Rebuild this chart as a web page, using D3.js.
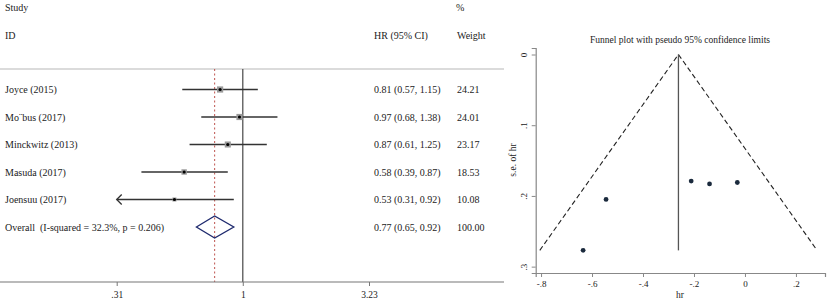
<!DOCTYPE html>
<html>
<head>
<meta charset="utf-8">
<script src="https://cdn.jsdelivr.net/npm/d3@7"></script>
<style>
  body { margin: 0; background: #fff; }
  svg text { font-family: "Liberation Serif", "DejaVu Serif", serif; fill: #222; white-space: pre; }
</style>
</head>
<body>
<svg id="chart" width="828" height="302"></svg>
<script>
// forest plot data
var studies = ["Joyce (2015)", "Mo\u00A8bus (2017)", "Minckwitz (2013)", "Masuda (2017)", "Joensuu (2017)"];
var hr = [0.81, 0.97, 0.87, 0.58, 0.53];
var ciLow = [0.57, 0.68, 0.61, 0.39, 0.31];
var ciHigh = [1.15, 1.38, 1.25, 0.87, 0.92];
var weights = [24.21, 24.01, 23.17, 18.53, 10.08];
var overall = {label: "Overall  (I-squared = 32.3%, p = 0.206)", hr: 0.77, lo: 0.65, hi: 0.92, weight: "100.00"};
var forestTicks = [0.31, 1, 3.23];
var forestTickLabels = [".31", "1", "3.23"];

// funnel plot data (log hr, s.e. of log hr)
var funnelLogHR = [-0.211, -0.030, -0.139, -0.545, -0.635];
var funnelSE = [0.179, 0.181, 0.183, 0.205, 0.277];
var pooledLogHR = -0.261;
var funnelLimitsX = [-0.805, 0.283];  // pseudo 95% limits at the largest s.e.
var funnelXTicks = [-0.8, -0.6, -0.4, -0.2, 0, 0.2];
var funnelYTicks = [0, 0.1, 0.2, 0.3];

var svg = d3.select("#chart");
svg.append("rect").attr("width", 828).attr("height", 302).attr("fill", "#fff");

// ---------- forest plot ----------
var x = d3.scaleLog().domain([0.31, 3.23]).range([116.7, 369]);
var rowY = d3.scalePoint().domain(d3.range(studies.length + 1)).range([89.5, 227]);
var boxSize = d3.scaleSqrt().domain([0, 25]).range([0, 6.3]);

var forest = svg.append("g");

// header text
forest.append("text").attr("x", 5).attr("y", 11).attr("font-size", 10).text("Study");
forest.append("text").attr("x", 5).attr("y", 38.5).attr("font-size", 10).text("ID");
forest.append("text").attr("x", 456).attr("y", 11).attr("font-size", 10).text("%");
forest.append("text").attr("x", 374).attr("y", 38.5).attr("font-size", 10).text("HR (95% CI)");
forest.append("text").attr("x", 457).attr("y", 38.5).attr("font-size", 10).text("Weight");

forest.append("line").attr("x1", 0).attr("x2", 504).attr("y1", 69).attr("y2", 69)
  .attr("stroke", "#cfcfcf").attr("stroke-width", 1.5);

// reference lines
forest.append("line").attr("x1", x(1)).attr("x2", x(1)).attr("y1", 69).attr("y2", 282)
  .attr("stroke", "#555").attr("stroke-width", 1.3);
forest.append("line").attr("x1", x(overall.hr)).attr("x2", x(overall.hr)).attr("y1", 69).attr("y2", 282)
  .attr("stroke", "#b5403a").attr("stroke-width", 0.9).attr("stroke-dasharray", "2,2.5");

// bottom axis
forest.append("line").attr("x1", 0).attr("x2", 504).attr("y1", 282).attr("y2", 282)
  .attr("stroke", "#777").attr("stroke-width", 1.2);
var xAxis = d3.axisBottom(x).tickValues(forestTicks).tickSize(4)
  .tickFormat(function(d, i) { return forestTickLabels[i]; });
var gx = forest.append("g").attr("transform", "translate(0,282)").call(xAxis);
gx.select(".domain").remove();
gx.selectAll(".tick line").attr("stroke", "#777");
gx.selectAll(".tick text").attr("font-size", 9.5).attr("dy", "0.9em")
  .style("font-family", "Liberation Serif, serif").attr("fill", "#222");

// study rows
studies.forEach(function(name, i) {
  var y = rowY(i);
  var lo = Math.max(ciLow[i], x.domain()[0]);
  forest.append("line").attr("x1", x(lo)).attr("x2", x(ciHigh[i])).attr("y1", y).attr("y2", y)
    .attr("stroke", "#333").attr("stroke-width", 1.3);
  if (ciLow[i] <= x.domain()[0]) {
    forest.append("path")
      .attr("d", "M" + (x(lo) + 5) + "," + (y - 5) + "L" + x(lo) + "," + y + "L" + (x(lo) + 5) + "," + (y + 5))
      .attr("fill", "none").attr("stroke", "#333").attr("stroke-width", 1.3);
  }
  var s = boxSize(weights[i]);
  forest.append("rect").attr("x", x(hr[i]) - s / 2).attr("y", y - s / 2)
    .attr("width", s).attr("height", s).attr("fill", "#9a9a9a");
  forest.append("circle").attr("cx", x(hr[i])).attr("cy", y).attr("r", 1.6).attr("fill", "#000");

  forest.append("text").attr("x", 5).attr("y", y + 3.5).attr("font-size", 10).text(name);
  forest.append("text").attr("x", 374).attr("y", y + 3.5).attr("font-size", 10)
    .text(hr[i].toFixed(2) + " (" + ciLow[i].toFixed(2) + ", " + ciHigh[i].toFixed(2) + ")");
  forest.append("text").attr("x", 457).attr("y", y + 3.5).attr("font-size", 10).text(weights[i].toFixed(2));
});

// overall diamond
var oy = rowY(studies.length);
forest.append("path")
  .attr("d", "M" + x(overall.lo) + "," + oy + "L" + x(overall.hr) + "," + (oy - 11) +
             "L" + x(overall.hi) + "," + oy + "L" + x(overall.hr) + "," + (oy + 11) + "Z")
  .attr("fill", "none").attr("stroke", "#1f2a6e").attr("stroke-width", 1.3);
forest.append("text").attr("x", 5).attr("y", oy + 3.5).attr("font-size", 10).text(overall.label);
forest.append("text").attr("x", 374).attr("y", oy + 3.5).attr("font-size", 10)
  .text(overall.hr.toFixed(2) + " (" + overall.lo.toFixed(2) + ", " + overall.hi.toFixed(2) + ")");
forest.append("text").attr("x", 457).attr("y", oy + 3.5).attr("font-size", 10).text(overall.weight);

// ---------- funnel plot ----------
var fx = d3.scaleLinear().domain([-0.821, 0.314]).range([535.7, 825]);
var fy = d3.scaleLinear().domain([-0.0092, 0.309]).range([48, 273]);
var funnel = svg.append("g");

funnel.append("text").attr("x", 680).attr("y", 43).attr("text-anchor", "middle").attr("font-size", 9.5)
  .text("Funnel plot with pseudo 95% confidence limits");

var fmt = function(d) { return d === 0 ? "0" : (d < 0 ? "-" : "") + String(Math.abs(d)).replace(/^0/, ""); };

var fxAxis = d3.axisBottom(fx).tickValues(funnelXTicks).tickSize(4).tickFormat(fmt);
var gfx = funnel.append("g").attr("transform", "translate(0,273)").call(fxAxis);
var fyAxis = d3.axisLeft(fy).tickValues(funnelYTicks).tickSize(4).tickFormat(fmt);
var gfy = funnel.append("g").attr("transform", "translate(535.7,0)").call(fyAxis);
[gfx, gfy].forEach(function(g) {
  g.select(".domain").attr("stroke", "#888").attr("stroke-width", 1.2);
  g.selectAll(".tick line").attr("stroke", "#888");
  g.selectAll(".tick text").attr("font-size", 9).attr("fill", "#333")
    .style("font-family", "Liberation Serif, serif");
});
gfx.selectAll(".tick text").attr("dy", "0.75em");
gfy.selectAll(".tick text").attr("transform", "rotate(-90)").attr("x", 0).attr("y", -9)
  .attr("dy", 0).attr("text-anchor", "middle");

funnel.append("text").attr("x", 680).attr("y", 298).attr("text-anchor", "middle").attr("font-size", 9.5).text("hr");
funnel.append("text").attr("transform", "translate(516,160) rotate(-90)").attr("text-anchor", "middle")
  .attr("font-size", 9.5).text("s.e. of hr");

var seMax = d3.max(funnelSE);
// pseudo confidence limits
funnel.append("path")
  .attr("d", "M" + fx(funnelLimitsX[0]) + "," + fy(seMax) + "L" + fx(pooledLogHR) + "," + fy(0) +
             "L" + fx(funnelLimitsX[1]) + "," + fy(seMax))
  .attr("fill", "none").attr("stroke", "#222").attr("stroke-width", 1.1).attr("stroke-dasharray", "5,3");
funnel.append("line").attr("x1", fx(pooledLogHR)).attr("x2", fx(pooledLogHR))
  .attr("y1", fy(0)).attr("y2", fy(seMax)).attr("stroke", "#555").attr("stroke-width", 1.3);

funnel.selectAll(".pt").data(funnelLogHR).enter().append("circle")
  .attr("class", "pt")
  .attr("cx", function(d) { return fx(d); })
  .attr("cy", function(d, i) { return fy(funnelSE[i]); })
  .attr("r", 2.4).attr("fill", "#1b2a3d");
</script>
</body>
</html>
